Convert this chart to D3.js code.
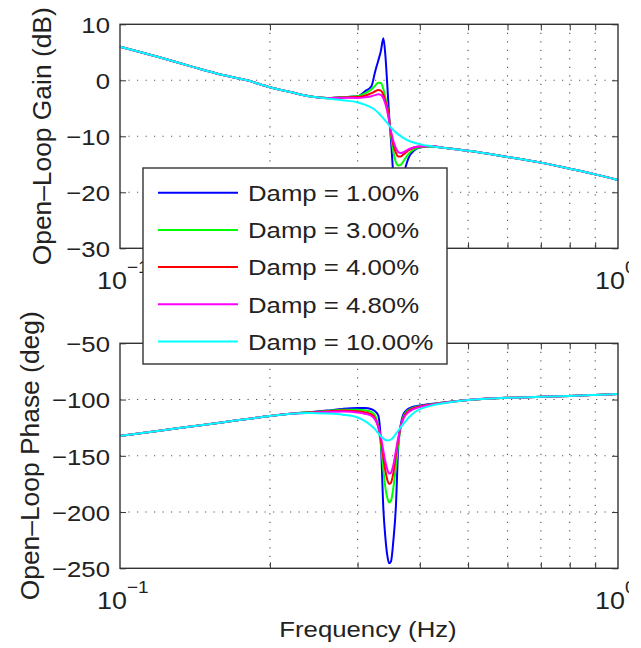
<!DOCTYPE html>
<html>
<head>
<meta charset="utf-8">
<script src="https://cdn.jsdelivr.net/npm/d3@7"></script>
<style>
  body { margin: 0; background: #fff; }
  svg { font-family: "Liberation Sans", Arial, Helvetica, sans-serif; }
  .grid line { stroke: #555; stroke-width: 1.1; stroke-dasharray: 1.2,7.3; }
  .axis path { display: none; }
  .axis line { stroke: #333; stroke-width: 1; }
  .axis text { fill: #222; }
</style>
</head>
<body>
<svg id="chart" width="641" height="648"></svg>
<script>
// frequency points (Hz)
var freq = [0.1, 0.12, 0.14, 0.16, 0.18, 0.2, 0.22, 0.24, 0.26, 0.28, 0.3, 0.31, 0.32, 0.325,
  0.33, 0.334, 0.338, 0.341, 0.344, 0.347, 0.35, 0.354, 0.358, 0.362, 0.366, 0.37, 0.375,
  0.38, 0.39, 0.4, 0.42, 0.45, 0.5, 0.6, 0.7, 0.8, 0.9, 1.0];

var dampNames = ["Damp = 1.00%", "Damp = 3.00%", "Damp = 4.00%", "Damp = 4.80%", "Damp = 10.00%"];

// open-loop gain (dB)
var gain1 = [6.0, 4.1, 2.4, 1.0, 0.0, -1.25, -2.1, -2.85, -3.15, -3.0, -2.85, -2.0, -1.0, 1.4,
  3.5, 5.2, 7.5, 4.6, -0.6, -6.2, -10.6, -17, -20.5, -21.5, -20.5, -17.5, -15.3,
  -13.8, -12.5, -12.0, -11.8, -12.1, -12.6, -13.7, -14.7, -15.8, -16.8, -17.8];
var gain3 = [6.0, 4.1, 2.4, 1.0, 0.0, -1.25, -2.1, -2.85, -3.15, -3.0, -2.85, -2.35, -1.6, -1.0,
  -0.45, -0.5, -1.6, -3.0, -4.6, -6.7, -9.8, -12.8, -14.6, -15.2, -15.1, -14.6, -13.8,
  -13.1, -12.3, -11.95, -11.8, -12.1, -12.6, -13.7, -14.7, -15.8, -16.8, -17.8];
var gain4 = [6.0, 4.1, 2.4, 1.0, 0.0, -1.25, -2.1, -2.85, -3.15, -3.05, -3.0, -2.75, -2.3, -2.0,
  -1.75, -1.85, -2.6, -3.7, -4.8, -6.9, -9.4, -11.6, -12.9, -13.6, -13.6, -13.3, -12.9,
  -12.5, -12.0, -11.8, -11.75, -12.1, -12.6, -13.7, -14.7, -15.8, -16.8, -17.8];
var gain48 = [6.0, 4.1, 2.4, 1.0, 0.0, -1.25, -2.1, -2.85, -3.2, -3.1, -3.15, -3.05, -2.85, -2.65,
  -2.5, -2.6, -3.2, -4.2, -5.5, -7.3, -9.1, -10.9, -12.1, -12.8, -13.0, -12.9, -12.6,
  -12.3, -11.95, -11.8, -11.75, -12.1, -12.6, -13.7, -14.7, -15.8, -16.8, -17.8];
var gain10 = [6.0, 4.1, 2.4, 1.0, 0.0, -1.25, -2.1, -2.85, -3.25, -3.55, -3.95, -4.35, -4.9, -5.25,
  -5.8, -6.3, -6.8, -7.2, -7.6, -8.0, -8.45, -8.9, -9.3, -9.65, -9.95, -10.25, -10.55,
  -10.8, -11.15, -11.4, -11.75, -12.1, -12.6, -13.7, -14.7, -15.8, -16.8, -17.8];

// open-loop phase (deg)
var phase1 = [-132.4, -127.7, -123.8, -120.4, -117.3, -114.6, -112.6, -111.2, -109.8, -108.3, -107.6,
  -107.6, -108.6, -110.3, -114, -137, -198, -222, -238, -245.5, -244, -225, -196, -142, -123,
  -114, -110, -108, -106.2, -105.3, -104, -102.4, -100.4, -98.4, -97.6, -96.8, -95.9, -95.1];
var phase3 = [-132.4, -127.7, -123.8, -120.4, -117.3, -114.6, -112.6, -111.3, -110.2, -109, -109,
  -109.6, -111.2, -114, -124, -140, -163, -178, -187, -191.5, -190, -178, -160, -140, -125,
  -116.5, -111.5, -109.3, -107, -106, -104.4, -102.5, -100.4, -98.4, -97.6, -96.8, -95.9, -95.1];
var phase4 = [-132.4, -127.7, -123.8, -120.4, -117.3, -114.6, -112.6, -111.5, -110.6, -109.8, -110.3,
  -111.2, -113.2, -116.3, -124, -136, -152, -163, -171, -175, -174, -165, -150, -136, -124.5,
  -117.5, -112.5, -110, -107.5, -106.3, -104.6, -102.6, -100.4, -98.4, -97.6, -96.8, -95.9, -95.1];
var phase48 = [-132.4, -127.7, -123.8, -120.4, -117.3, -114.6, -112.6, -111.7, -111.1, -110.6, -111.5,
  -112.6, -114.6, -117.6, -124, -133, -146, -155, -162, -165.8, -165, -158, -146, -134, -124.5,
  -118, -113.5, -111, -108.2, -106.7, -104.8, -102.7, -100.4, -98.4, -97.6, -96.8, -95.9, -95.1];
var phase10 = [-132.4, -127.7, -123.8, -120.4, -117.3, -114.6, -112.6, -112, -112.4, -113.5, -116,
  -119, -123.5, -126.3, -129.8, -132.5, -134.7, -136, -136.3, -136.2, -135.5, -133.5, -130.5, -127.5, -124.8,
  -122, -119, -116, -111.5, -108.6, -105.6, -103, -100.4, -98.4, -97.6, -96.8, -95.9, -95.1];

var gainTicks = [10, 0, -10, -20, -30];
var phaseTicks = [-50, -100, -150, -200, -250];
var minorTicks = [0.2, 0.3, 0.4, 0.5, 0.6, 0.7, 0.8, 0.9];
var colors = ["#0000ff", "#00ff00", "#ff0000", "#ff00ff", "#00ffff"];

var gains = [gain1, gain3, gain4, gain48, gain10];
var phases = [phase1, phase3, phase4, phase48, phase10];

var svg = d3.select("#chart");
svg.append("rect").attr("width", 641).attr("height", 648).attr("fill", "#fff");

// the original picture is cropped at the right edge
svg.append("clipPath").attr("id", "crop")
  .append("rect").attr("width", 629).attr("height", 648);
var root = svg.append("g").attr("clip-path", "url(#crop)");

var left = 120, right = 618;
var x = d3.scaleLog().domain([0.1, 1]).range([left, right]);

function minus(v) { return String(v).replace("-", "\u2212"); }

function panel(top, bottom, domain, ticks, series, ylabel, titleX, titleLen) {
  var y = d3.scaleLinear().domain(domain).range([bottom, top]);
  var g = root.append("g");

  // dotted grid
  var grid = g.append("g").attr("class", "grid");
  grid.selectAll(".gx").data(minorTicks).enter().append("line")
    .attr("x1", d => x(d)).attr("x2", d => x(d)).attr("y1", top).attr("y2", bottom);
  grid.selectAll(".gy").data(ticks.slice(1, -1)).enter().append("line")
    .attr("x1", left).attr("x2", right).attr("y1", d => y(d)).attr("y2", d => y(d));

  // inside ticks on all four sides
  g.append("g").attr("class", "axis").attr("transform", "translate(0," + bottom + ")")
    .call(d3.axisBottom(x).tickValues(minorTicks).tickSize(-6).tickFormat(""));
  g.append("g").attr("class", "axis").attr("transform", "translate(0," + top + ")")
    .call(d3.axisTop(x).tickValues(minorTicks).tickSize(-6).tickFormat(""));
  g.append("g").attr("class", "axis").attr("transform", "translate(" + right + ",0)")
    .call(d3.axisRight(y).tickValues(ticks).tickSize(-6).tickFormat(""));
  var ya = g.append("g").attr("class", "axis").attr("transform", "translate(" + left + ",0)")
    .call(d3.axisLeft(y).tickValues(ticks).tickSize(-6).tickPadding(16).tickFormat(minus));
  ya.selectAll("text").attr("font-size", 23).attr("dy", "0.36em")
    .attr("transform", "scale(1.12,1)").attr("x", -10 / 1.12);

  // curves
  var line = d3.line()
    .x((d, i) => x(freq[i]))
    .y(d => y(d))
    .curve(d3.curveMonotoneX);
  g.selectAll(".curve").data(series).enter().append("path")
    .attr("d", line)
    .attr("fill", "none")
    .attr("stroke", (d, i) => colors[i])
    .attr("stroke-width", 2);

  // frame
  g.append("rect").attr("x", left).attr("y", top)
    .attr("width", right - left).attr("height", bottom - top)
    .attr("fill", "none").attr("stroke", "#333").attr("stroke-width", 1.4);

  // decade labels
  [[0.1, "\u22121"], [1, "0"]].forEach(function (t) {
    var lab = g.append("text").attr("font-size", 24).attr("fill", "#222")
      .attr("transform", "translate(" + (x(t[0]) - 23) + "," + (bottom + 41) + ") scale(1.12,1)");
    lab.append("tspan").text("10");
    lab.append("tspan").attr("dy", -16).attr("font-size", 17).text(t[1]);
  });

  // y axis title
  root.append("text")
    .attr("transform", "translate(" + titleX + "," + ((top + bottom) / 2) + ") rotate(-90)")
    .attr("text-anchor", "middle").attr("font-size", 26).attr("fill", "#222")
    .attr("textLength", titleLen).attr("lengthAdjust", "spacingAndGlyphs")
    .text(ylabel);
  return y;
}

panel(24.3, 248.3, [-30, 10], gainTicks, gains, "Open\u2013Loop Gain (dB)", 51, 258);
panel(343.3, 568.3, [-250, -50], phaseTicks, phases, "Open\u2013Loop Phase (deg)", 39, 289);

root.append("text").attr("transform", "translate(368,637) scale(1.12,1)")
  .attr("text-anchor", "middle").attr("font-size", 23).attr("fill", "#222")
  .text("Frequency (Hz)");

// legend
var legend = root.append("g");
legend.append("rect").attr("x", 143).attr("y", 168).attr("width", 304).attr("height", 196)
  .attr("fill", "#fff").attr("stroke", "#333").attr("stroke-width", 1.4);
var item = legend.selectAll(".item").data(dampNames).enter().append("g")
  .attr("transform", (d, i) => "translate(0," + (192.7 + i * 37.2) + ")");
item.append("line").attr("x1", 158).attr("x2", 238)
  .attr("stroke", (d, i) => colors[i]).attr("stroke-width", 2);
item.append("text").attr("transform", "translate(248,0) scale(1.12,1)")
  .attr("dy", "0.36em").attr("font-size", 23).attr("fill", "#222")
  .text(d => d);
</script>
</body>
</html>
